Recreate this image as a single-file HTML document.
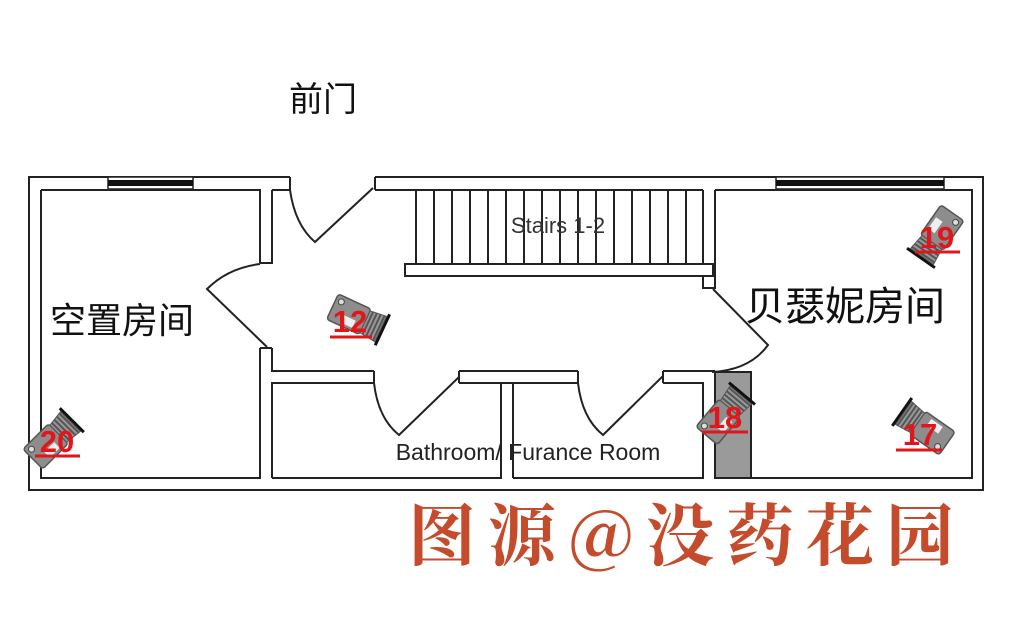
<!DOCTYPE html>
<html><head><meta charset="utf-8"><style>
html,body{margin:0;padding:0;background:#fff;}
svg{display:block;}
.l{fill:none;stroke:#222;stroke-width:2;}
.num{font-family:"Liberation Sans",sans-serif;font-weight:bold;font-size:31px;fill:#e3141a;text-anchor:middle;}
</style></head><body>
<svg width="1024" height="638" viewBox="0 0 1024 638" xmlns="http://www.w3.org/2000/svg">
<defs>
<g id="cam">
<rect x="-27" y="-14" width="36" height="28" rx="3" fill="#8d8d8d" stroke="#555" stroke-width="1.5"/>
<rect x="-14" y="3" width="14" height="8" fill="#eee"/>
<circle cx="-21" cy="-8" r="3" fill="#ddd" stroke="#444" stroke-width="1"/>
<path d="M9,-12 L26,-14 L26,14 L9,12 Z" fill="#999" stroke="#555" stroke-width="1"/>
<path d="M12,-12 V12 M16,-13 V13 M20,-13 V13 M24,-14 V14" stroke="#555" stroke-width="2"/>
<line x1="28" y1="-17" x2="28" y2="17" stroke="#111" stroke-width="3"/>
</g>
</defs>
<rect x="29" y="177" width="954" height="313" fill="#fff" stroke="#222" stroke-width="2"/>
<rect x="290" y="170" width="85" height="20" fill="#fff"/>
<line x1="290" y1="177" x2="290" y2="190" stroke="#222" stroke-width="2"/>
<line x1="375" y1="177" x2="375" y2="190" stroke="#222" stroke-width="2"/>
<rect x="108" y="177" width="85" height="12" fill="#fff" stroke="#222" stroke-width="1.5"/>
<rect x="108" y="180" width="85" height="6" fill="#111"/>
<rect x="776" y="177" width="168" height="12" fill="#fff" stroke="#222" stroke-width="1.5"/>
<rect x="776" y="180" width="168" height="6" fill="#111"/>
<path class="l" d="M41,190 H260 V263 M260,348 V478 H41 V190"/>
<path class="l" d="M272,478 V383 H374 M459,383 H501 V478 H272"/>
<path class="l" d="M272,190 H290 M375,190 H703 M272,190 V263 H260 M272,348 H260 M272,348 V371 H374 M459,371 H578 M663,371 H715"/>
<path class="l" d="M513,478 V383 H578 M663,383 H703 V478 H513"/>
<path class="l" d="M501,383 H513"/>
<path class="l" d="M715,190 H972 V478 H751"/>
<path class="l" d="M703,190 V288 H715 V190"/>
<path class="l" d="M374,371 V383 M459,371 V383 M578,371 V383 M663,371 V383"/>
<rect x="715" y="372" width="36" height="106" fill="#9a9a9a" stroke="#222" stroke-width="2"/>
<rect x="405" y="264" width="308" height="12" fill="#fff" stroke="#222" stroke-width="2"/>
<path class="l" d="M416,190 V264 M434,190 V264 M452,190 V264 M470,190 V264 M488,190 V264 M506,190 V264 M524,190 V264 M542,190 V264 M560,190 V264 M578,190 V264 M596,190 V264 M614,190 V264 M632,190 V264 M650,190 V264 M668,190 V264 M686,190 V264 M703,190 V264"/>
<path class="l" d="M290,190 Q295,225 315,242 L373,188"/>
<path class="l" d="M260,264 Q228,268 207,289 L267,347"/>
<path class="l" d="M374,383 Q378,418 399,435 L459,377"/>
<path class="l" d="M578,383 Q582,418 603,435 L663,376"/>
<path class="l" d="M713,289 L768,345 Q750,370 712,372"/>
<text x="289" y="111" font-family="'Liberation Sans','Noto Sans CJK SC',sans-serif" font-size="34" fill="#111">前门</text>
<text x="50" y="333" font-family="'Liberation Sans','Noto Sans CJK SC',sans-serif" font-size="36" fill="#111">空置房间</text>
<text x="745" y="320" font-family="'Liberation Sans','Noto Sans CJK SC',sans-serif" font-size="40" fill="#111">贝瑟妮房间</text>
<text x="558" y="233" font-family="'Liberation Sans',sans-serif" font-size="22" fill="#333" text-anchor="middle">Stairs 1-2</text>
<text x="528" y="460" font-family="'Liberation Sans',sans-serif" font-size="23" fill="#222" text-anchor="middle">Bathroom/ Furance Room</text>
<use href="#cam" transform="translate(357,318) rotate(25)"/>
<use href="#cam" transform="translate(52,440) rotate(-45)"/>
<use href="#cam" transform="translate(937,235) rotate(125)"/>
<use href="#cam" transform="translate(724,415) rotate(-50)"/>
<use href="#cam" transform="translate(925,428) rotate(-145)"/>
<g class="num">
<text x="350" y="332">12</text><line x1="330" y1="337" x2="372" y2="337" stroke="#e3141a" stroke-width="3"/>
<text x="57" y="452">20</text><line x1="35" y1="456" x2="80" y2="456" stroke="#e3141a" stroke-width="3"/>
<text x="937" y="248">19</text><line x1="915" y1="252" x2="960" y2="252" stroke="#e3141a" stroke-width="3"/>
<text x="725" y="428">18</text><line x1="702" y1="432" x2="748" y2="432" stroke="#e3141a" stroke-width="3"/>
<text x="920" y="445">17</text><line x1="896" y1="450" x2="942" y2="450" stroke="#e3141a" stroke-width="3"/>
</g>
<text x="408" y="560" font-family="'Noto Serif CJK SC','Liberation Serif',serif" font-weight="bold" font-size="68" fill="#c44c2c" letter-spacing="12">图源@没药花园</text>
</svg>
</body></html>
